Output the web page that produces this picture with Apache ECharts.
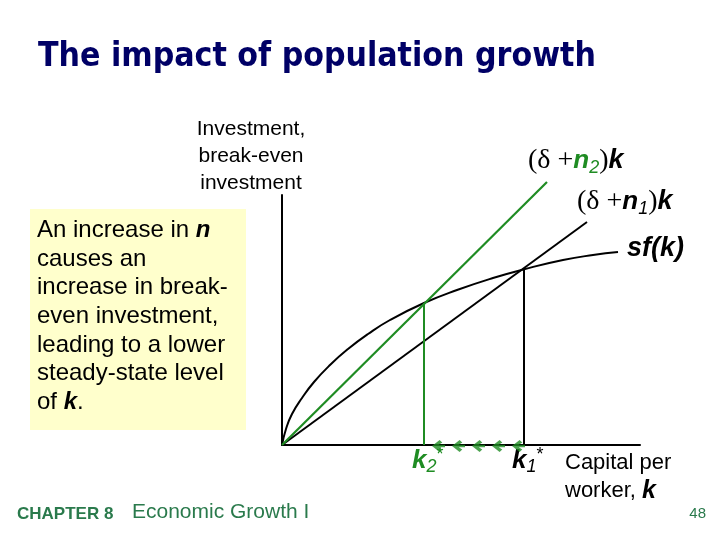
<!DOCTYPE html>
<html>
<head>
<meta charset="utf-8">
<script src="https://cdn.jsdelivr.net/npm/echarts@6/dist/echarts.min.js"></script>
<style>
  html, body { margin: 0; padding: 0; background: #fff; }
  #main { width: 720px; height: 540px; }
</style>
</head>
<body>
<div id="main"></div>
<script>
// values (x = capital per worker, y = investment)
const sfK = [0, 4, 10, 20, 32, 48, 66, 86, 108, 142, 175, 211, 243, 281, 311, 336];
const sfY = [0, 16, 31, 47, 63, 80, 96, 111, 125, 142, 155, 167, 176, 185, 190, 193];
const n2LineK = [0, 265];
const n2LineY = [0, 263];
const n1LineK = [0, 305];
const n1LineY = [0, 223];
const k2Star = [142, 142]; // k, investment at the new steady state
const k1Star = [242, 177]; // k, investment at the old steady state
const arrowK = [150, 170, 190, 210, 230]; // tips of the arrows k1* -> k2*
const boxLines = [
  "An increase in {bi|n}",
  "causes an",
  "increase in break-",
  "even investment,",
  "leading to a lower",
  "steady-state level",
  "of {bi|k}."
];

const GREEN = "#1f8c23";
const FOOT = "#2a7a4c";

function pairs(xs, ys) {
  return xs.map((x, i) => [x, ys[i]]);
}

const chart = echarts.init(document.getElementById("main"));

const sans = "Liberation Sans, Arial, sans-serif";
const serif = "Liberation Serif, Times New Roman, serif";

// rich styles for the formula labels
function formulaRich(nColor) {
  return {
    p: { fontFamily: serif, fontSize: 28, fill: "#000", lineHeight: 32 },
    n: { fontFamily: sans, fontSize: 26, fontWeight: "bold", fontStyle: "italic", fill: nColor, lineHeight: 32 },
    s: { fontFamily: sans, fontSize: 18, fontStyle: "italic", fill: nColor, lineHeight: 14, verticalAlign: "bottom" },
    k: { fontFamily: sans, fontSize: 27, fontWeight: "bold", fontStyle: "italic", fill: "#000", lineHeight: 32 }
  };
}

function starRich(color) {
  return {
    k: { fontFamily: sans, fontSize: 26, fontWeight: "bold", fontStyle: "italic", fill: color, lineHeight: 30 },
    s: { fontFamily: sans, fontSize: 18, fontStyle: "italic", fill: color, lineHeight: 14, verticalAlign: "bottom" },
    u: { fontFamily: sans, fontSize: 18, fill: color, lineHeight: 14, verticalAlign: "top" }
  };
}

chart.setOption({
  animation: false,
  backgroundColor: "#fff",
  grid: { left: 282, top: 195, width: 358, bottom: 95, containLabel: false },
  xAxis: {
    type: "value", min: 0, max: 358,
    axisLine: { show: true, onZero: false, lineStyle: { color: "#000", width: 2 } },
    axisTick: { show: false }, axisLabel: { show: false }, splitLine: { show: false }
  },
  yAxis: {
    type: "value", min: 0, max: 250,
    axisLine: { show: true, onZero: false, lineStyle: { color: "#000", width: 2 } },
    axisTick: { show: false }, axisLabel: { show: false }, splitLine: { show: false }
  },
  graphic: [
    {
      type: "text", left: 38, top: 40,
      style: { text: "The impact of population growth", fill: "#000066",
        font: "bold 33.5px 'DejaVu Sans Condensed', 'DejaVu Sans', sans-serif" }
    },
    {
      type: "text", x: 251, y: 116,
      style: { text: "Investment,\nbreak-even\ninvestment", fill: "#000", align: "center",
        fontFamily: sans, fontSize: 21, lineHeight: 27 }
    },
    {
      type: "rect", shape: { x: 30, y: 209, width: 216, height: 221 },
      style: { fill: "#ffffcc" }, z: 0
    },
    {
      type: "text", x: 37, y: 216,
      style: {
        text: boxLines.join("\n"), fill: "#000", fontFamily: sans, fontSize: 24, lineHeight: 28.7,
        rich: {
          bi: { fontFamily: sans, fontSize: 24, fontWeight: "bold", fontStyle: "italic", fill: "#000", lineHeight: 28.7 }
        }
      }
    },
    {
      type: "text", x: 528, y: 145,
      style: { text: "{p|(δ +}{n|n}{s|2}{p|)}{k|k}", rich: formulaRich(GREEN) }
    },
    {
      type: "text", x: 577, y: 186,
      style: { text: "{p|(δ +}{n|n}{s|1}{p|)}{k|k}", rich: formulaRich("#000") }
    },
    {
      type: "text", x: 627, y: 235,
      style: { text: "sf(k)", fill: "#000", fontFamily: sans, fontSize: 27, fontWeight: "bold", fontStyle: "italic" }
    },
    {
      type: "text", x: 412, y: 446,
      style: { text: "{k|k}{s|2}{u|*}", rich: starRich(GREEN) }
    },
    {
      type: "text", x: 512, y: 446,
      style: { text: "{k|k}{s|1}{u|*}", rich: starRich("#000") }
    },
    {
      type: "text", x: 565, y: 449,
      style: {
        text: "Capital per\nworker, {k|k}", fill: "#000", fontFamily: sans, fontSize: 22, lineHeight: 28,
        rich: { k: { fontFamily: sans, fontSize: 25, fontWeight: "bold", fontStyle: "italic", fill: "#000", lineHeight: 28 } }
      }
    },
    {
      type: "text", x: 17, y: 506,
      style: { text: "CHAPTER 8", fill: FOOT, fontFamily: sans, fontSize: 17, fontWeight: "bold" }
    },
    {
      type: "text", x: 132, y: 502,
      style: { text: "Economic Growth I", fill: FOOT, fontFamily: sans, fontSize: 21 }
    },
    {
      type: "text", x: 706, y: 506,
      style: { text: "48", fill: FOOT, align: "right", fontFamily: sans, fontSize: 15 }
    }
  ],
  series: [
    {
      name: "sf(k)", type: "line", smooth: 0.5, showSymbol: false, clip: false,
      data: pairs(sfK, sfY), lineStyle: { color: "#000", width: 2 }, z: 3
    },
    {
      name: "(δ+n1)k", type: "line", showSymbol: false, clip: false,
      data: pairs(n1LineK, n1LineY), lineStyle: { color: "#000", width: 2 }, z: 3
    },
    {
      name: "(δ+n2)k", type: "line", showSymbol: false, clip: false,
      data: pairs(n2LineK, n2LineY), lineStyle: { color: GREEN, width: 2.2 }, z: 4
    },
    {
      name: "k1*", type: "line", showSymbol: false,
      data: [[k1Star[0], 0], k1Star], lineStyle: { color: "#000", width: 2 }, z: 3
    },
    {
      name: "k2*", type: "line", showSymbol: false,
      data: [[k2Star[0], 0], k2Star], lineStyle: { color: GREEN, width: 2 }, z: 4
    },
    {
      name: "shift", type: "scatter",
      data: arrowK.map(k => [k, 0]),
      symbol: "path://M0,5 L7,0 L9.5,2 L4.5,5 L9.5,8 L7,10 Z M3,4 L12,4 L12,6 L3,6 Z",
      symbolSize: [13, 12], symbolOffset: [6.5, 1],
      itemStyle: { color: GREEN }, z: 5
    }
  ]
});
</script>
</body>
</html>
